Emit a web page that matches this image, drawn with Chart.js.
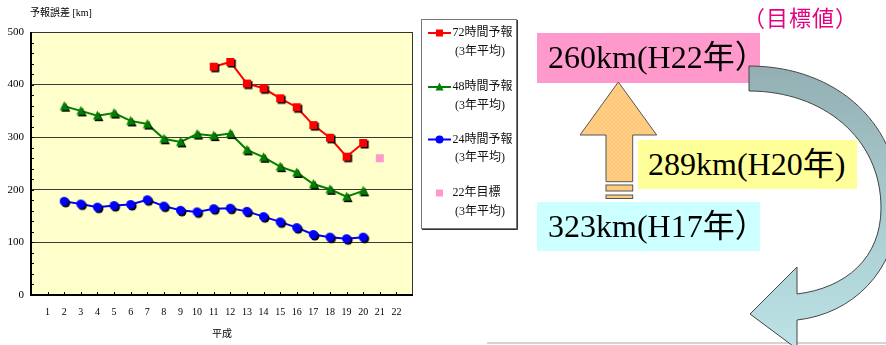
<!DOCTYPE html>
<html lang="ja">
<head>
<meta charset="utf-8">
<title>予報誤差</title>
<script src="https://cdn.jsdelivr.net/npm/chart.js@4.4.1/dist/chart.umd.min.js"></script>
<style>
    html, body { margin: 0; padding: 0; background: #fff; }
    #wrap { position: relative; width: 886px; height: 345px; overflow: hidden; }
    #errChart { position: absolute; left: 0; top: 0; }
    .goal-note {
        position: absolute; left: 743px; top: 2px;
        font: 22px 'Noto Sans CJK JP', sans-serif; color: #E4007F;
        letter-spacing: 1px; line-height: 28px; white-space: nowrap;
    }
    .km-box {
        position: absolute; box-sizing: border-box; padding-left: 11px;
        font: 32px 'Liberation Serif', 'Noto Sans CJK JP', serif; color: #000;
        white-space: nowrap; line-height: 49px; height: 49px;
    }
    .box-goal { left: 537px; top: 33px; width: 223px; height: 50px; background: #FF99CC; }
    .box-h20 { left: 638px; top: 140px; width: 219px; background: #FFFF99; padding-left: 10px; }
    .box-h17 { left: 537px; top: 202px; width: 223px; background: #CCFFFF; }
    .base-line { position: absolute; left: 487px; top: 342px; width: 399px; height: 2px; background: #D4D4D4; }
    svg { position: absolute; left: 0; top: 0; }
</style>
</head>
<body>
<div id="wrap">
    <canvas id="errChart" width="886" height="345"></canvas>
    <div class="goal-note">（目標値）</div>
    <div class="km-box box-goal">260km(H22年）</div>
    <div class="km-box box-h20">289km(H20年)</div>
    <div class="km-box box-h17">323km(H17年）</div>
    <div class="base-line"></div>
    <svg width="886" height="345" viewBox="0 0 886 345">
        <defs>
            <pattern id="hatch" width="4" height="4" patternUnits="userSpaceOnUse">
                <rect width="4" height="4" fill="#FFC878"/>
                <path d="M0,0 L4,4 M4,0 L0,4" stroke="#FFD496" stroke-width="0.5"/>
            </pattern>
            <linearGradient id="bend" x1="0" y1="0" x2="0" y2="1">
                <stop offset="0" stop-color="#93AFB3"/>
                <stop offset="0.45" stop-color="#A6C8CC"/>
                <stop offset="1" stop-color="#BCE3E7"/>
            </linearGradient>
        </defs>
        <!-- upward improvement arrow -->
        <polygon points="618.3,82 656.7,135 632.7,135 632.7,181.7 606,181.7 606,135 580,135"
                 fill="url(#hatch)" stroke="#555" stroke-width="1"/>
        <rect x="606" y="185" width="26.7" height="6" fill="url(#hatch)" stroke="#555" stroke-width="1"/>
        <rect x="606" y="195" width="26.7" height="3.5" fill="url(#hatch)" stroke="#555" stroke-width="1"/>
        <!-- curved return arrow -->
        <path d="M749,66 C838,66 902,126 899,208 C896,272 852,314 797,320
                 L797,349 L750,314 L797,267 L797,294
                 C846,288 881,258 881,208 C881,138 823,91 749,91 Z"
              fill="url(#bend)" stroke="#444" stroke-width="1"/>
    </svg>
</div>

<script>
// 平成 year positions on the x axis
const heisei = [1, 2, 3, 4, 5, 6, 7, 8, 9, 10, 11, 12, 13, 14, 15, 16, 17, 18, 19, 20, 21, 22];
const yTicks = [0, 100, 200, 300, 400, 500];

// 3-year mean track errors (km), one entry per heisei year
const err72 = [null, null, null, null, null, null, null, null, null, null,
    434, 443, 402, 393, 374, 357, 323, 299, 263, 289, null, null];
const err48 = [null, 359, 350, 341, 346, 331, 325, 297, 291, 306, 303,
    307, 276, 262, 244, 233, 211, 201, 187, 198, null, null];
const err24 = [null, 178, 173, 167, 170, 172, 181, 169, 161, 158, 164,
    165, 159, 149, 139, 128, 115, 110, 107, 110, null, null];
const goal22 = [null, null, null, null, null, null, null, null, null, null,
    null, null, null, null, null, null, null, null, null, null, 260, null];

const SERIF = "'Liberation Serif', 'Noto Sans CJK JP', serif";

function toPoints(values) {
    return heisei.map((h, i) => ({ x: h, y: values[i] }));
}

function drawShape(ctx, shape, cx, cy, size) {
    ctx.beginPath();
    if (shape === 'square') {
        ctx.rect(cx - size / 2, cy - size / 2, size, size);
    } else if (shape === 'triangle') {
        ctx.moveTo(cx, cy - size * 0.55);
        ctx.lineTo(cx + size / 2, cy + size * 0.45);
        ctx.lineTo(cx - size / 2, cy + size * 0.45);
        ctx.closePath();
    } else {
        ctx.arc(cx, cy, size / 2, 0, Math.PI * 2);
    }
    ctx.fill();
}

// Marker image with a small black drop shadow
function makeMarker(shape, color, size, shadow) {
    const s = size + 6;
    const c = document.createElement('canvas');
    c.width = s;
    c.height = s;
    const ctx = c.getContext('2d');
    if (shadow) {
        ctx.fillStyle = '#000';
        drawShape(ctx, shape, s / 2 + 1.5, s / 2 + 1.5, size);
    }
    ctx.fillStyle = color;
    drawShape(ctx, shape, s / 2, s / 2, size);
    return c;
}

const legendRows = [
    { label: '72時間予報', color: '#FF0000', shape: 'square', size: 8, line: true, y: 33 },
    { label: '48時間予報', color: '#008000', shape: 'triangle', size: 9, line: true, y: 87 },
    { label: '24時間予報', color: '#0000FF', shape: 'circle', size: 9, line: true, y: 139.5 },
    { label: '22年目標', color: '#FF99CC', shape: 'square', size: 8, line: false, y: 193 }
];

const framePlugin = {
    id: 'frame',
    beforeDraw(chart) {
        const { ctx, chartArea: a } = chart;
        ctx.save();
        ctx.fillStyle = '#FFFFCC';
        ctx.fillRect(a.left, a.top, a.right - a.left, a.bottom - a.top);
        ctx.restore();
    },
    beforeDatasetsDraw(chart) {
        const { ctx, chartArea: a, scales } = chart;
        ctx.save();
        ctx.strokeStyle = '#000';
        ctx.lineWidth = 1;
        // inward tick marks on the y axis, every 20 km
        ctx.beginPath();
        for (let v = 20; v < 500; v += 20) {
            const y = Math.round(scales.y.getPixelForValue(v)) + 0.5;
            ctx.moveTo(a.left, y);
            ctx.lineTo(a.left + 3, y);
        }
        // inward tick marks on the x axis
        heisei.forEach(h => {
            const x = Math.round(scales.x.getPixelForValue(h)) + 0.5;
            ctx.moveTo(x, a.bottom);
            ctx.lineTo(x, a.bottom - 3);
        });
        ctx.stroke();
        ctx.strokeStyle = '#333';
        ctx.strokeRect(a.left + 0.5, a.top + 0.5, a.right - a.left - 1, a.bottom - a.top);
        ctx.lineWidth = 2;
        ctx.strokeStyle = '#000';
        ctx.beginPath();
        ctx.moveTo(a.left, a.top);
        ctx.lineTo(a.left, a.bottom);
        ctx.lineTo(a.right, a.bottom);
        ctx.stroke();
        ctx.restore();
    },
    afterDraw(chart) {
        const { ctx, chartArea: a } = chart;
        ctx.save();
        ctx.fillStyle = '#000';
        ctx.textBaseline = 'middle';
        ctx.font = '10px ' + SERIF;
        ctx.textAlign = 'left';
        ctx.fillText('予報誤差 [km]', 30, 13);
        ctx.textAlign = 'center';
        ctx.fillText('平成', (a.left + a.right) / 2, 334);

        // legend box
        ctx.fillStyle = '#fff';
        ctx.fillRect(421.5, 19.5, 95, 209);
        ctx.strokeStyle = '#777';
        ctx.lineWidth = 1;
        ctx.strokeRect(421.5, 19.5, 95, 209);
        ctx.strokeStyle = '#333';
        ctx.beginPath();
        ctx.moveTo(517.5, 20);
        ctx.lineTo(517.5, 229.5);
        ctx.lineTo(422, 229.5);
        ctx.stroke();

        ctx.textAlign = 'left';
        legendRows.forEach(row => {
            if (row.line) {
                ctx.strokeStyle = row.color;
                ctx.lineWidth = 2;
                ctx.beginPath();
                ctx.moveTo(428, row.y);
                ctx.lineTo(451, row.y);
                ctx.stroke();
            }
            ctx.fillStyle = row.color;
            drawShape(ctx, row.shape, 439.5, row.y, row.size - 1);
            ctx.fillStyle = '#111';
            ctx.font = '12px ' + SERIF;
            ctx.fillText(row.label, 452.5, row.y);
            ctx.fillText('(3年平均)', 455, row.y + 18.5);
        });
        ctx.restore();
    }
};

function lineSet(label, values, color, shape, size) {
    return {
        label,
        data: toPoints(values),
        borderColor: color,
        backgroundColor: color,
        borderWidth: 2,
        tension: 0,
        spanGaps: false,
        pointStyle: makeMarker(shape, color, size, true),
        pointRadius: 5
    };
}

document.addEventListener('DOMContentLoaded', () => {
    const ctx = document.getElementById('errChart').getContext('2d');
    new Chart(ctx, {
        type: 'line',
        data: {
            datasets: [
                lineSet('72時間予報', err72, '#FF0000', 'square', 8),
                lineSet('48時間予報', err48, '#008000', 'triangle', 9),
                lineSet('24時間予報', err24, '#0000FF', 'circle', 9),
                {
                    label: '22年目標',
                    data: toPoints(goal22),
                    showLine: false,
                    borderColor: '#FF99CC',
                    backgroundColor: '#FF99CC',
                    pointStyle: makeMarker('square', '#FF99CC', 8, false),
                    pointRadius: 5
                }
            ]
        },
        options: {
            responsive: false,
            animation: false,
            events: [],
            layout: { padding: { top: 32, right: 473, left: 0, bottom: 0 } },
            plugins: {
                legend: { display: false },
                tooltip: { enabled: false }
            },
            scales: {
                x: {
                    type: 'linear',
                    min: 0,
                    max: 23,
                    afterFit(scale) { scale.height = 50; },
                    afterBuildTicks(scale) { scale.ticks = heisei.map(v => ({ value: v })); },
                    ticks: {
                        autoSkip: false,
                        maxRotation: 0,
                        padding: 3,
                        color: '#000',
                        font: { family: SERIF, size: 10 },
                        callback: v => String(v)
                    },
                    grid: { display: false },
                    border: { display: false }
                },
                y: {
                    min: 0,
                    max: 500,
                    afterFit(scale) { scale.width = 31; },
                    afterBuildTicks(scale) { scale.ticks = yTicks.map(v => ({ value: v })); },
                    ticks: {
                        padding: 7,
                        color: '#000',
                        font: { family: SERIF, size: 11 }
                    },
                    grid: {
                        drawTicks: false,
                        lineWidth: 1,
                        color: c => (c.tick && (c.tick.value === 0 || c.tick.value === 500)) ? 'rgba(0,0,0,0)' : '#3a3a3a'
                    },
                    border: { display: false }
                }
            }
        },
        plugins: [framePlugin]
    });
});
</script>
</body>
</html>
